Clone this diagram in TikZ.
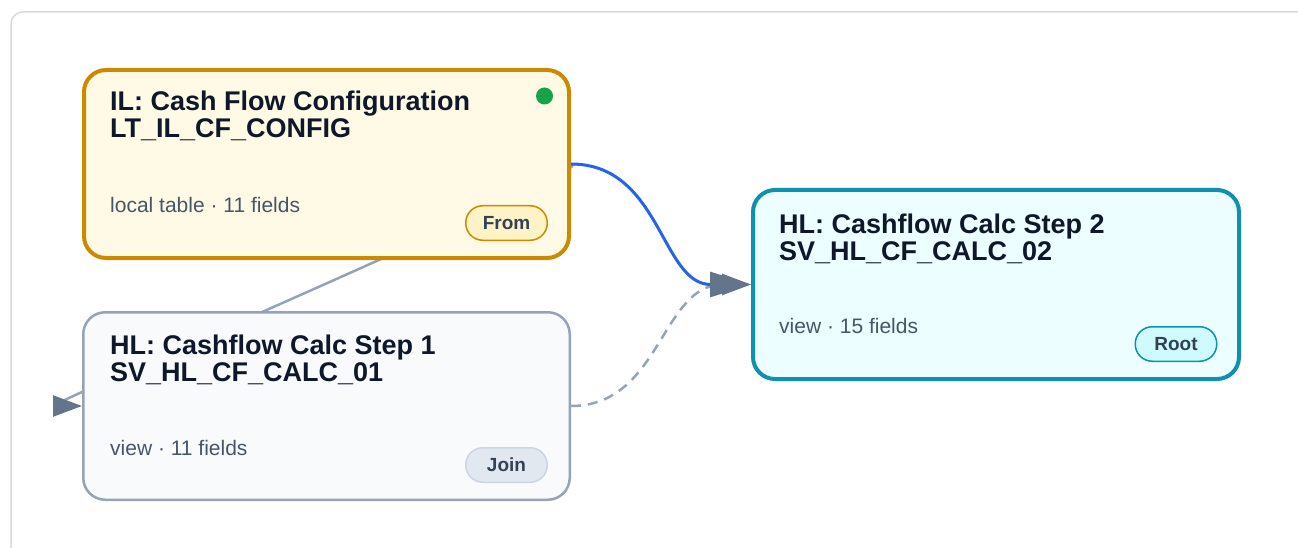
\documentclass[tikz,border=0pt]{standalone}
\usepackage{fontspec}
\setmainfont{Liberation Sans}
\usetikzlibrary{arrows.meta,backgrounds}

% palette
\definecolor{titleink}{HTML}{0F172A}
\definecolor{infoink}{HTML}{475569}
\definecolor{badgeink}{HTML}{334155}
\definecolor{framegray}{HTML}{D5D9DF}
\definecolor{edgegray}{HTML}{94A3B8}
\definecolor{arrowgray}{HTML}{64748B}
\definecolor{flowblue}{HTML}{2563EB}
\definecolor{livegreen}{HTML}{16A34A}
\definecolor{tableline}{HTML}{CC8A00}
\definecolor{tablefill}{HTML}{FEFAE6}
\definecolor{frombadge}{HTML}{FEF3C7}
\definecolor{viewline}{HTML}{94A3B8}
\definecolor{viewfill}{HTML}{F8FAFC}
\definecolor{joinbadge}{HTML}{E2E8F0}
\definecolor{joinline}{HTML}{CBD5E1}
\definecolor{rootline}{HTML}{0E91B0}
\definecolor{rootfill}{HTML}{ECFEFF}
\definecolor{rootbadge}{HTML}{CFFAFE}

\tikzset{
    card/.style={draw, rounded corners=22pt, inner sep=0pt, minimum width=485pt, minimum height=188pt},
    cardtitle/.style={anchor=base west, align=left, inner sep=0pt, text=titleink, font=\fontsize{27}{27}\selectfont\bfseries},
    cardinfo/.style={anchor=base west, inner sep=0pt, text=infoink, font=\fontsize{21}{24}\selectfont},
    badge/.style={draw, rounded corners=17pt, line width=1.5pt, inner sep=0pt, minimum width=81.5pt, minimum height=34.5pt, text=badgeink, font=\fontsize{19}{20}\selectfont\bfseries},
    edgeline/.style={line width=2.5pt, draw=edgegray}
}

\begin{document}
\begin{tikzpicture}[x=1pt, y=-1pt]
    \useasboundingbox (0,0) rectangle (1298,548);
    % Canvas frame
    \draw[framegray, line width=1.5pt, rounded corners=12pt] (11,12) rectangle (1330,580);

    % Source table
    \node[card, line width=4pt, draw=tableline, fill=tablefill] (cfg) at (326.5,164) {};
    \node[cardtitle] (cfgtitle) at ([shift={(28,70)}]cfg.north west) {IL: Cash Flow Configuration\\LT\_IL\_CF\_CONFIG};
    \node[cardinfo] (cfginfo) at ([shift={(28,145)}]cfg.north west) {local table · 11 fields};
    \node[badge, draw=tableline, fill=frombadge] (cfgbadge) at ([shift={(-64.5,155)}]cfg.north east) {From};
    \node[circle, fill=livegreen, inner sep=0pt, minimum size=17pt] (cfglive) at ([shift={(-26.5,28)}]cfg.north east) {};

    % First calc view
    \node[card, line width=2.5pt, draw=viewline, fill=viewfill, minimum width=486.5pt, minimum height=187.5pt] (step1) at (326.5,406) {};
    \node[cardtitle] (step1title) at ([shift={(28,70)}]step1.north west) {HL: Cashflow Calc Step 1\\SV\_HL\_CF\_CALC\_01};
    \node[cardinfo] (step1info) at ([shift={(28,144)}]step1.north west) {view · 11 fields};
    \node[badge, draw=joinline, fill=joinbadge] (step1badge) at ([shift={(-64.5,154)}]step1.north east) {Join};

    % Second calc view (root)
    \node[card, line width=4pt, draw=rootline, fill=rootfill, minimum width=486pt, minimum height=189pt] (step2) at (996,284.5) {};
    \node[cardtitle] (step2title) at ([shift={(28,72)}]step2.north west) {HL: Cashflow Calc Step 2\\SV\_HL\_CF\_CALC\_02};
    \node[cardinfo] (step2info) at ([shift={(28,145)}]step2.north west) {view · 15 fields};
    \node[badge, draw=rootline, fill=rootbadge] (step2badge) at ([shift={(-65,156)}]step2.north east) {Root};

    % Connectors behind the cards
    \begin{scope}[on background layer]
        \draw[edgeline, -{Triangle[length=29pt, width=21pt, color=arrowgray]}] (cfg.east) .. controls +(40,0) and +(-40,0) .. (step1.west);
        \draw[edgeline, dash pattern=on 10pt off 7pt, -{Triangle[length=29pt, width=21pt, color=arrowgray]}] (step1.east) .. controls +(90,0) and +(-90,0) .. (step2.west);
        \draw[line width=3pt, draw=flowblue, -{Triangle[length=41pt, width=25pt, color=arrowgray]}] (cfg.east) .. controls +(90,0) and +(-90,0) .. (step2.west);
    \end{scope}
\end{tikzpicture}
\end{document}
